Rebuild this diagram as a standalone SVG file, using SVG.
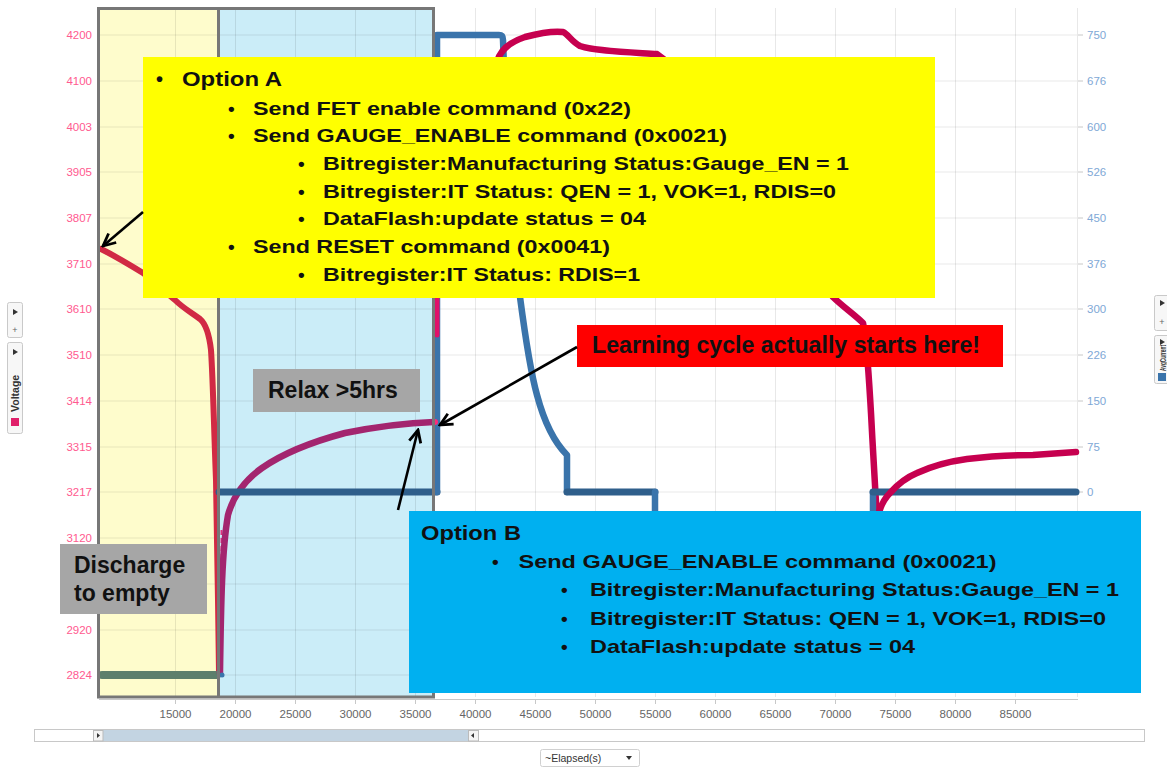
<svg xmlns="http://www.w3.org/2000/svg" width="1167" height="767" viewBox="0 0 1167 767">
<defs>
<marker id="arr" viewBox="0 0 14 14" refX="12.5" refY="7" markerWidth="15" markerHeight="15" markerUnits="userSpaceOnUse" orient="auto">
<path d="M1,1.5 L12.5,7 L1,12.5" fill="none" stroke="#000" stroke-width="2.6"/>
</marker>
<style>
text{font-family:"Liberation Sans",Arial,sans-serif}
.ll{font-size:11.5px;fill:#ff5a8f;text-anchor:end}
.lr{font-size:11.5px;fill:#80a8d6}
.lx{font-size:11.5px;fill:#666;text-anchor:middle}
.grid line{stroke:#000;stroke-opacity:0.09;stroke-width:1}
.bt{font-weight:bold;fill:#111;font-size:19px}
.hd{font-weight:bold;fill:#111;font-size:20px}
.at{font-weight:bold;fill:#111;font-size:23px}
.arrow{stroke:#000;stroke-width:2.6;fill:none;marker-end:url(#arr)}
.wid{fill:#f7f7f7;stroke:#c9c9c9;stroke-width:1}
.tri{fill:#333}
.data{fill:none;stroke-linecap:round;stroke-linejoin:round}
</style>
</defs>
<rect width="1167" height="767" fill="#ffffff"/>

<g id="chart">
  <rect x="99" y="8" width="119" height="689" fill="#fefccc"/>
  <rect x="218" y="8" width="215" height="689" fill="#cbedf8"/>
  <g class="grid">
    <line x1="99" y1="35" x2="1077" y2="35"/>
    <line x1="99" y1="81" x2="1077" y2="81"/>
    <line x1="99" y1="127" x2="1077" y2="127"/>
    <line x1="99" y1="172" x2="1077" y2="172"/>
    <line x1="99" y1="218" x2="1077" y2="218"/>
    <line x1="99" y1="264" x2="1077" y2="264"/>
    <line x1="99" y1="309" x2="1077" y2="309"/>
    <line x1="99" y1="355" x2="1077" y2="355"/>
    <line x1="99" y1="401" x2="1077" y2="401"/>
    <line x1="99" y1="447" x2="1077" y2="447"/>
    <line x1="99" y1="492" x2="1077" y2="492"/>
    <line x1="99" y1="538" x2="1077" y2="538"/>
    <line x1="99" y1="584" x2="1077" y2="584"/>
    <line x1="99" y1="630" x2="1077" y2="630"/>
    <line x1="99" y1="675" x2="1077" y2="675"/>
    <line x1="175.5" y1="8" x2="175.5" y2="697"/>
    <line x1="235.5" y1="8" x2="235.5" y2="697"/>
    <line x1="295.5" y1="8" x2="295.5" y2="697"/>
    <line x1="355.5" y1="8" x2="355.5" y2="697"/>
    <line x1="415.5" y1="8" x2="415.5" y2="697"/>
    <line x1="475.5" y1="8" x2="475.5" y2="697"/>
    <line x1="535.5" y1="8" x2="535.5" y2="697"/>
    <line x1="595.5" y1="8" x2="595.5" y2="697"/>
    <line x1="655.5" y1="8" x2="655.5" y2="697"/>
    <line x1="715.5" y1="8" x2="715.5" y2="697"/>
    <line x1="775.5" y1="8" x2="775.5" y2="697"/>
    <line x1="835.5" y1="8" x2="835.5" y2="697"/>
    <line x1="895.5" y1="8" x2="895.5" y2="697"/>
    <line x1="955.5" y1="8" x2="955.5" y2="697"/>
    <line x1="1015.5" y1="8" x2="1015.5" y2="697"/>
    <line x1="1077.5" y1="8" x2="1077.5" y2="697"/>
  </g>
  <g stroke="#c8c8c8" stroke-width="1">
    <path d="M1078,35h5M1078,81h5M1078,127h5M1078,172h5M1078,218h5M1078,264h5M1078,309h5M1078,355h5M1078,401h5M1078,447h5M1078,492h5"/>
    <path d="M99,699.5H1078"/>
    <path d="M175.5,699v5M235.5,699v5M295.5,699v5M355.5,699v5M415.5,699v5M475.5,699v5M535.5,699v5M595.5,699v5M655.5,699v5M715.5,699v5M775.5,699v5M835.5,699v5M895.5,699v5M955.5,699v5M1015.5,699v5"/>
  </g>
  <text class="ll" x="92" y="39">4200</text>
  <text class="ll" x="92" y="85">4100</text>
  <text class="ll" x="92" y="131">4003</text>
  <text class="ll" x="92" y="176">3905</text>
  <text class="ll" x="92" y="222">3807</text>
  <text class="ll" x="92" y="268">3710</text>
  <text class="ll" x="92" y="313">3610</text>
  <text class="ll" x="92" y="359">3510</text>
  <text class="ll" x="92" y="405">3414</text>
  <text class="ll" x="92" y="451">3315</text>
  <text class="ll" x="92" y="496">3217</text>
  <text class="ll" x="92" y="542">3120</text>
  <text class="ll" x="92" y="634">2920</text>
  <text class="ll" x="92" y="679">2824</text>
  <text class="lr" x="1087" y="39">750</text>
  <text class="lr" x="1087" y="85">676</text>
  <text class="lr" x="1087" y="131">600</text>
  <text class="lr" x="1087" y="176">526</text>
  <text class="lr" x="1087" y="222">450</text>
  <text class="lr" x="1087" y="268">376</text>
  <text class="lr" x="1087" y="313">300</text>
  <text class="lr" x="1087" y="359">226</text>
  <text class="lr" x="1087" y="405">150</text>
  <text class="lr" x="1087" y="451">75</text>
  <text class="lr" x="1087" y="496">0</text>
  <text class="lx" x="175.5" y="718">15000</text>
  <text class="lx" x="235.5" y="718">20000</text>
  <text class="lx" x="295.5" y="718">25000</text>
  <text class="lx" x="355.5" y="718">30000</text>
  <text class="lx" x="415.5" y="718">35000</text>
  <text class="lx" x="475.5" y="718">40000</text>
  <text class="lx" x="535.5" y="718">45000</text>
  <text class="lx" x="595.5" y="718">50000</text>
  <text class="lx" x="655.5" y="718">55000</text>
  <text class="lx" x="715.5" y="718">60000</text>
  <text class="lx" x="775.5" y="718">65000</text>
  <text class="lx" x="835.5" y="718">70000</text>
  <text class="lx" x="895.5" y="718">75000</text>
  <text class="lx" x="955.5" y="718">80000</text>
  <text class="lx" x="1015.5" y="718">85000</text>

  <path class="data" stroke="#d12a44" stroke-width="6" d="M101,249 C115,256 130,265 143,273 C155,281 165,292 175,300 C183,308 192,313 200,319 C206,324 209,333 211,350 C213,380 214,430 216,480 L218,600 L219,673"/>
  <path class="data" stroke="#5d7f6c" stroke-width="8" d="M102,675 H217"/>
  <path fill="none" stroke="#e0307f" stroke-width="2" stroke-dasharray="5 3" d="M221.5,530 V672"/>
  <path class="data" stroke="#a3256f" stroke-width="6.5" d="M220,673 C221,600 222,550 228,515 C233,497 245,480 262,468 C285,452 315,441 345,433 C380,426 405,423 434,422"/>
  <path class="data" stroke="#2f5f8b" stroke-width="7" d="M219,492 H437"/>
  <path class="data" stroke="#3a74ab" stroke-width="6.5" d="M437,492 V35 H499 Q503,35 503,40 L506,120 L512,220 L520,297 C525,335 530,370 537,395 C545,425 555,443 567,455 V492"/>
  <path class="data" stroke="#2f5f8b" stroke-width="7" d="M567,492 H655"/>
  <path class="data" stroke="#3a74ab" stroke-width="6.5" d="M655,492 V520"/>
  <path class="data" stroke="#e0106a" stroke-width="5" d="M437,335 V296"/>
  <circle cx="435" cy="422" r="3" fill="#ff2a7a"/>
  <circle cx="222" cy="675" r="2.5" fill="#3a74ab"/>
  <path class="data" stroke="#c6004f" stroke-width="6.5" d="M497,62 C500,50 510,42 525,37 C540,33 555,31 563,32 C568,34 572,42 580,46 C595,51 625,52 657,54 L665,60"/>
  <path class="data" stroke="#c6004f" stroke-width="6.5" d="M820,280 L833,297 C842,306 855,315 863,323 C867,340 869,380 871,413 C873,450 875,490 877,520"/>
  <path class="data" stroke="#3a74ab" stroke-width="6.5" d="M873,520 V492"/>
  <path class="data" stroke="#2f5f8b" stroke-width="7" d="M873,492 H1076"/>
  <path class="data" stroke="#c6004f" stroke-width="6.5" d="M877,520 C880,505 885,498 890,493 C897,485 905,478 917,473 C930,467 945,462 967,459 C990,456 1010,455 1033,455 L1076,452"/>

  <rect x="98.5" y="8.5" width="335" height="688.5" fill="none" stroke="#777" stroke-width="3"/>
  <line x1="218.5" y1="8.5" x2="218.5" y2="697" stroke="#777" stroke-width="3"/>

  <rect class="wid" x="7.5" y="302.5" width="15" height="35" rx="2"/>
  <polygon class="tri" points="13,309 18,312 13,315"/>
  <text x="15" y="333" font-size="9" fill="#666" text-anchor="middle">+</text>
  <rect class="wid" x="7.5" y="342.5" width="15" height="91" rx="2"/>
  <polygon class="tri" points="13,349 18,352 13,355"/>
  <text transform="translate(19,412) rotate(-90)" font-size="10.5" font-weight="bold" fill="#333">Voltage</text>
  <rect x="11" y="418" width="8" height="8" fill="#e0206a"/>
  <rect class="wid" x="1154.5" y="295.5" width="16" height="35" rx="2"/>
  <polygon class="tri" points="1160,300 1165,303 1160,306"/>
  <text x="1162" y="325" font-size="9" fill="#666" text-anchor="middle">+</text>
  <rect class="wid" x="1154.5" y="335.5" width="16" height="48" rx="2"/>
  <polygon class="tri" points="1160,339 1165,342 1160,345"/>
  <text transform="translate(1166,371) rotate(-90)" font-size="9.5" font-weight="bold" fill="#333" textLength="26" lengthAdjust="spacingAndGlyphs">AvgCurrent</text>
  <rect x="1158" y="373" width="8" height="8" fill="#3a74ab"/>

  <rect x="34.5" y="729.5" width="1110" height="12" fill="#fff" stroke="#c8c8c8"/>
  <rect x="103" y="730" width="365" height="11" fill="#c3d4e2"/>
  <rect x="93.5" y="730.5" width="9.5" height="10.5" fill="#f4f4f4" stroke="#bbb"/>
  <polygon class="tri" points="97,733 100,735.5 97,738"/>
  <rect x="468.5" y="730.5" width="10" height="10.5" fill="#f4f4f4" stroke="#bbb"/>
  <polygon class="tri" points="474,733 471,735.5 474,738"/>
  <rect x="540.5" y="749.5" width="99" height="17" rx="2" fill="#fff" stroke="#d0d0d0"/>
  <text x="545" y="762" font-size="10.5" fill="#333">~Elapsed(s)</text>
  <polygon class="tri" points="626,756 632,756 629,760"/>
</g>

<g id="option-a">
  <rect x="143" y="57" width="792" height="241" fill="#ffff00"/>
  <text class="hd" x="156" y="86">•</text>
  <text class="hd" x="182" y="86" textLength="100" lengthAdjust="spacingAndGlyphs">Option A</text>
  <text class="bt" x="228" y="115">•</text>
  <text class="bt" x="253" y="115" textLength="378" lengthAdjust="spacingAndGlyphs">Send FET enable command (0x22)</text>
  <text class="bt" x="228" y="142">•</text>
  <text class="bt" x="253" y="142" textLength="474" lengthAdjust="spacingAndGlyphs">Send GAUGE_ENABLE command (0x0021)</text>
  <text class="bt" x="298" y="170">•</text>
  <text class="bt" x="323" y="170" textLength="526" lengthAdjust="spacingAndGlyphs">Bitregister:Manufacturing Status:Gauge_EN = 1</text>
  <text class="bt" x="298" y="198">•</text>
  <text class="bt" x="323" y="198" textLength="513" lengthAdjust="spacingAndGlyphs">Bitregister:IT Status: QEN = 1, VOK=1, RDIS=0</text>
  <text class="bt" x="298" y="225">•</text>
  <text class="bt" x="323" y="225" textLength="323" lengthAdjust="spacingAndGlyphs">DataFlash:update status = 04</text>
  <text class="bt" x="228" y="253">•</text>
  <text class="bt" x="253" y="253" textLength="357" lengthAdjust="spacingAndGlyphs">Send RESET command (0x0041)</text>
  <text class="bt" x="298" y="281">•</text>
  <text class="bt" x="323" y="281" textLength="317" lengthAdjust="spacingAndGlyphs">Bitregister:IT Status: RDIS=1</text>
</g>

<g id="option-b">
  <rect x="409" y="511" width="732" height="182" fill="#00b0f0"/>
  <text class="hd" x="421" y="540" textLength="100" lengthAdjust="spacingAndGlyphs">Option B</text>
  <text class="bt" x="492" y="568">•</text>
  <text class="bt" x="518.5" y="568" textLength="478" lengthAdjust="spacingAndGlyphs">Send GAUGE_ENABLE command (0x0021)</text>
  <text class="bt" x="561" y="596">•</text>
  <text class="bt" x="590" y="596" textLength="529" lengthAdjust="spacingAndGlyphs">Bitregister:Manufacturing Status:Gauge_EN = 1</text>
  <text class="bt" x="561" y="625">•</text>
  <text class="bt" x="590" y="625" textLength="516" lengthAdjust="spacingAndGlyphs">Bitregister:IT Status: QEN = 1, VOK=1, RDIS=0</text>
  <text class="bt" x="561" y="653">•</text>
  <text class="bt" x="590" y="653" textLength="325" lengthAdjust="spacingAndGlyphs">DataFlash:update status = 04</text>
</g>

<g id="learning-label">
  <rect x="577" y="325" width="426" height="42" fill="#ff0000"/>
  <text class="at" x="592" y="353" textLength="388" lengthAdjust="spacingAndGlyphs">Learning cycle actually starts here!</text>
</g>

<g id="relax-label">
  <rect x="253" y="369" width="167" height="43" fill="#a6a6a6"/>
  <text class="at" x="268" y="398">Relax &gt;5hrs</text>
</g>

<g id="discharge-label">
  <rect x="60" y="544" width="147" height="70" fill="#a6a6a6"/>
  <text class="at" x="74" y="573">Discharge</text>
  <text class="at" x="74" y="601">to empty</text>
</g>

<g id="connectors">
  <line class="arrow" x1="143" y1="212" x2="103" y2="246"/>
  <line class="arrow" x1="577" y1="347" x2="440" y2="425"/>
  <line class="arrow" x1="398" y1="510" x2="418" y2="430"/>
</g>
</svg>
